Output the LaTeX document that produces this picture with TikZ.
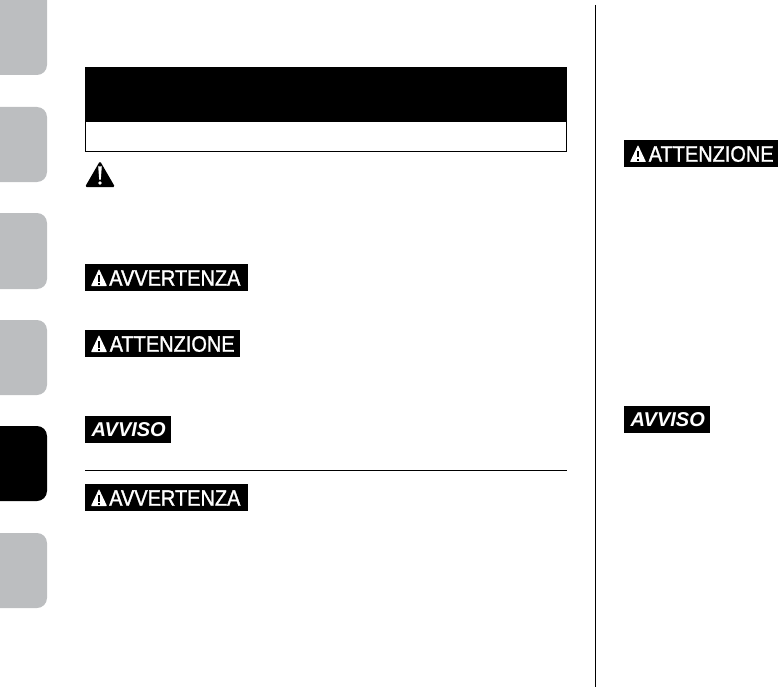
\documentclass[tikz,border=0pt]{standalone}
\usepackage{fontspec}
\setmainfont{Liberation Sans}
\newfontfamily\tagfont[FakeStretch=0.895,FakeBold=1.3]{Liberation Sans}
\usetikzlibrary{positioning, calc}
\definecolor{tabgrey}{HTML}{BCBEC0}
\tikzset{
  tabshape/.style={fill=tabgrey, draw=none, rounded corners=10pt},
  tagbox/.style={fill=black, anchor=north west, inner sep=0pt, minimum height=27pt},
  tagtext/.style={text=white, anchor=base west, inner sep=0pt, font=\tagfont\fontsize{22.3}{23}\selectfont},
  notetext/.style={text=white, anchor=base west, inner sep=0pt, font=\bfseries\itshape\fontsize{20}{21}\selectfont},
  rulebar/.style={line width=1pt},
}
% small white triangle with a black mark, used in the tags
\newcommand{\tagtri}[2]{
  \fill[white, rounded corners=0.6pt] (#1,#2) -- ++(8,-17) -- ++(8,17) -- cycle;
  \fill[black] (#1+7,#2-11) rectangle ++(2,6.5);
  \fill[black] (#1+7,#2-3.4) rectangle ++(2,2);
}
\begin{document}
\begin{tikzpicture}[x=1pt, y=-1pt]
\useasboundingbox (0,0) rectangle (778,687);

% side tabs
\foreach \ytop/\ybot in {-20/75, 107/182, 213/289, 320/395, 533/608}
  \fill[tabshape] (-20,\ytop) rectangle (47,\ybot);
\fill[black, rounded corners=10pt] (-20,426) rectangle (47,501);

% header
\node (head) [fill=black, anchor=north west, inner sep=0pt, minimum width=482pt, minimum height=54.5pt] at (85,67) {};
\node (headsub) [draw=black, line width=1pt, anchor=north, inner sep=0pt, minimum width=481pt, minimum height=30pt] at ($(head.south)+(0,-0.5)$) {};

% warning sign
\fill[black, rounded corners=1.5pt] (85,187) -- (100,161) -- (115,187) -- cycle;
\fill[white] (98.2,166.5) -- (101.8,166.5) -- (100.8,179.5) -- (99.2,179.5) -- cycle;
\fill[white] (100,183) circle (1.9);

% tags, left column
\node (warnA) [tagbox, minimum width=163pt] at (85,264) {};
\node (warnAtxt) [tagtext] at (109,285.7) {AVVERTENZA};
\tagtri{91}{286}
\node (cautA) [tagbox, minimum width=155pt] at (85,330) {};
\node (cautAtxt) [tagtext] at (109.5,351.7) {ATTENZIONE};
\tagtri{91}{352}
\node (noteA) [tagbox, minimum width=86pt] at (85,416) {};
\node (noteAtxt) [notetext] at (91.5,436) {AVVISO};

\coordinate (ruleL) at (85,470);
\coordinate (ruleR) at (567,470);
\draw[rulebar] (ruleL) -- (ruleR);

\node (warnB) [tagbox, minimum width=163pt] at (85,484) {};
\node (warnBtxt) [tagtext] at (109,505.7) {AVVERTENZA};
\tagtri{91}{506}

% column rule
\coordinate (colT) at (595.7,5);
\coordinate (colB) at (595.7,687);
\draw[rulebar] (colT) -- (colB);

% tags, right column
\node (cautB) [tagbox, minimum width=154pt] at (624,140) {};
\node (cautBtxt) [tagtext] at (648.5,161.7) {ATTENZIONE};
\tagtri{630}{162}
\node (noteB) [tagbox, minimum width=86pt] at (624,406) {};
\node (noteBtxt) [notetext] at (630.5,426) {AVVISO};
\end{tikzpicture}
\end{document}
